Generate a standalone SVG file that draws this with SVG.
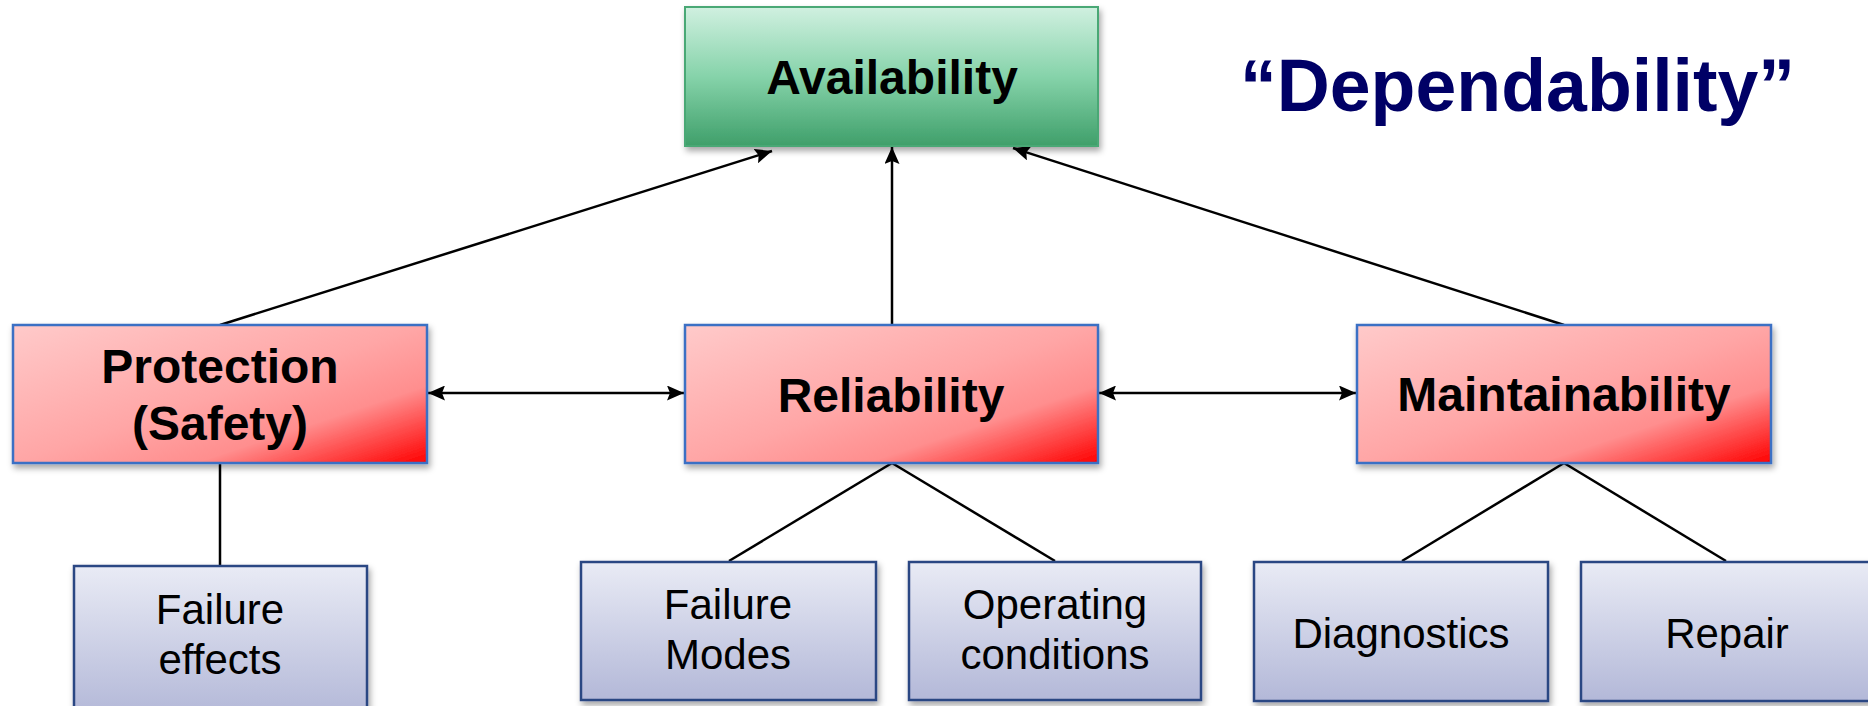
<svg xmlns="http://www.w3.org/2000/svg" width="1868" height="706" viewBox="0 0 1868 706">
  <defs>
    <linearGradient id="gGreen" x1="0" y1="0" x2="0" y2="1">
      <stop offset="0" stop-color="#d0f0e0"/>
      <stop offset="0.5" stop-color="#86d3aa"/>
      <stop offset="1" stop-color="#3f9f6a"/>
    </linearGradient>
    <linearGradient id="gRed" x1="0" y1="0" x2="1" y2="1">
      <stop offset="0" stop-color="#ffcaca"/>
      <stop offset="0.5" stop-color="#ffa6a6"/>
      <stop offset="0.72" stop-color="#ff8e8e"/>
      <stop offset="1" stop-color="#ff0000"/>
    </linearGradient>
    <linearGradient id="gBlue" x1="0" y1="0" x2="0" y2="1">
      <stop offset="0" stop-color="#e9ebf5"/>
      <stop offset="1" stop-color="#b3b8d8"/>
    </linearGradient>
    <filter id="shadow" x="-5%" y="-5%" width="115%" height="125%">
      <feDropShadow dx="2" dy="4" stdDeviation="3" flood-color="#000" flood-opacity="0.35"/>
    </filter>
    <marker id="arrow" viewBox="0 0 17 15" refX="17" refY="7.5" markerWidth="17" markerHeight="15" markerUnits="userSpaceOnUse" orient="auto-start-reverse">
      <path d="M0,0 L17,7.5 L0,15 L3,7.5 Z" fill="#000"/>
    </marker>
  </defs>
  <style>
    .green { fill: url(#gGreen); stroke: #4aa874; stroke-width: 2; filter: url(#shadow); }
    .red { fill: url(#gRed); stroke: #3a70c4; stroke-width: 2.5; filter: url(#shadow); }
    .blue { fill: url(#gBlue); stroke: #2c4683; stroke-width: 2.5; filter: url(#shadow); }
    .bold { font-family: "Liberation Sans", Arial, sans-serif; font-weight: bold; font-size: 48px; fill: #000; text-anchor: middle; }
    .plain { font-family: "Liberation Sans", Arial, sans-serif; font-size: 42px; fill: #000; text-anchor: middle; }
    .title { font-family: "Liberation Sans", Arial, sans-serif; font-weight: bold; font-size: 74px; fill: #000066; }
    .link { stroke: #000; stroke-width: 2.5; fill: none; }
    .arr { stroke: #000; stroke-width: 2.5; fill: none; marker-end: url(#arrow); }
    .darr { stroke: #000; stroke-width: 2.5; fill: none; marker-start: url(#arrow); marker-end: url(#arrow); }
  </style>

  <rect width="1868" height="706" fill="#fff"/>

  <!-- connectors -->
  <g id="connectors">
    <line class="arr" x1="220" y1="325" x2="772" y2="151"/>
    <line class="arr" x1="892" y1="325" x2="892" y2="147"/>
    <line class="arr" x1="1564" y1="325" x2="1013" y2="148"/>
    <line class="darr" x1="428" y1="393" x2="684" y2="393"/>
    <line class="darr" x1="1099" y1="393" x2="1356" y2="393"/>
    <line class="link" x1="220" y1="463" x2="220" y2="566"/>
    <line class="link" x1="892" y1="463" x2="729" y2="561"/>
    <line class="link" x1="892" y1="463" x2="1055" y2="561"/>
    <line class="link" x1="1564" y1="463" x2="1402" y2="561"/>
    <line class="link" x1="1564" y1="463" x2="1726" y2="561"/>
  </g>

  <g id="availability">
    <rect class="green" x="685" y="7" width="413" height="139"/>
    <text class="bold" x="892" y="94">Availability</text>
  </g>

  <g id="protection">
    <rect class="red" x="13" y="325" width="414" height="138"/>
    <text class="bold" x="220" y="383">Protection</text>
    <text class="bold" x="220" y="440">(Safety)</text>
  </g>

  <g id="reliability">
    <rect class="red" x="685" y="325" width="413" height="138"/>
    <text class="bold" x="891" y="412">Reliability</text>
  </g>

  <g id="maintainability">
    <rect class="red" x="1357" y="325" width="414" height="138"/>
    <text class="bold" x="1564" y="411">Maintainability</text>
  </g>

  <g id="failure-effects">
    <rect class="blue" x="74" y="566" width="293" height="150"/>
    <text class="plain" x="220" y="624">Failure</text>
    <text class="plain" x="220" y="674">effects</text>
  </g>

  <g id="failure-modes">
    <rect class="blue" x="581" y="562" width="295" height="138"/>
    <text class="plain" x="728" y="619">Failure</text>
    <text class="plain" x="728" y="669">Modes</text>
  </g>

  <g id="operating-conditions">
    <rect class="blue" x="909" y="562" width="292" height="138"/>
    <text class="plain" x="1055" y="619">Operating</text>
    <text class="plain" x="1055" y="669">conditions</text>
  </g>

  <g id="diagnostics">
    <rect class="blue" x="1254" y="562" width="294" height="139"/>
    <text class="plain" x="1401" y="648">Diagnostics</text>
  </g>

  <g id="repair">
    <rect class="blue" x="1581" y="562" width="294" height="139"/>
    <text class="plain" x="1727" y="648">Repair</text>
  </g>

  <g id="dependability">
    <text class="title" x="1240" y="111" textLength="555" lengthAdjust="spacingAndGlyphs">“Dependability”</text>
  </g>
</svg>
